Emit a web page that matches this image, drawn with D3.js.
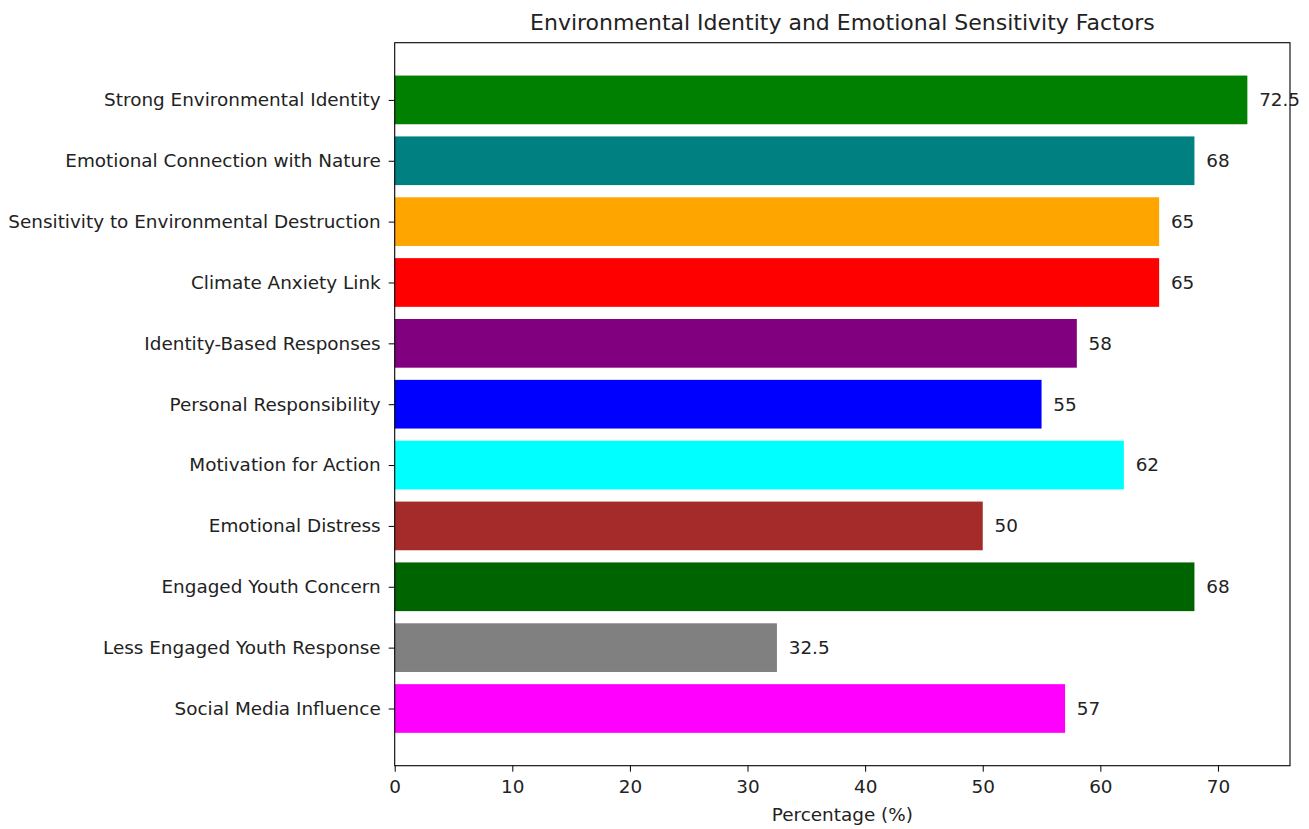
<!DOCTYPE html>
<html>
<head>
<meta charset="utf-8">
<script src="https://cdn.jsdelivr.net/npm/d3@7"></script>
<style>
  html, body { margin: 0; padding: 0; background: #fff; }
  text { font-family: "DejaVu Sans", sans-serif; fill: #222; }
</style>
</head>
<body>
<svg id="chart" width="1309" height="829"></svg>
<script>
// Factors, top to bottom, with their percentages and bar colours
const categories = [
  "Strong Environmental Identity",
  "Emotional Connection with Nature",
  "Sensitivity to Environmental Destruction",
  "Climate Anxiety Link",
  "Identity-Based Responses",
  "Personal Responsibility",
  "Motivation for Action",
  "Emotional Distress",
  "Engaged Youth Concern",
  "Less Engaged Youth Response",
  "Social Media Influence"
];
const values = [72.5, 68, 65, 65, 58, 55, 62, 50, 68, 32.5, 57];
const colors = ["#008000", "#008080", "#FFA500", "#FF0000", "#800080", "#0000FF",
                "#00FFFF", "#A52A2A", "#006400", "#808080", "#FF00FF"];
const xTicks = [0, 10, 20, 30, 40, 50, 60, 70];

const title = "Environmental Identity and Emotional Sensitivity Factors";
const xLabel = "Percentage (%)";

const svg = d3.select("#chart");
const plotL = 394.7, plotR = 1290, plotT = 42.7, plotB = 765.7;
const fs = "18.4px";

const x = d3.scaleLinear().domain([0, d3.max(values) * 1.05]).range([plotL, plotR]);
// index axis with the usual 5% padding around bars of height 0.8
const n = categories.length;
const y = d3.scaleLinear().domain([-0.94, n - 1 + 0.94]).range([plotT, plotB]);
const barH = 0.8;

svg.append("g")
  .selectAll("rect")
  .data(values)
  .join("rect")
  .attr("x", x(0))
  .attr("y", (d, i) => y(i - barH / 2))
  .attr("width", d => x(d) - x(0))
  .attr("height", y(barH) - y(0))
  .attr("fill", (d, i) => colors[i]);

// value labels just past each bar end
svg.append("g")
  .selectAll("text")
  .data(values)
  .join("text")
  .attr("x", d => x(d + 1))
  .attr("y", (d, i) => y(i))
  .attr("dy", "0.35em")
  .style("font-size", fs)
  .text(d => d);

// frame
svg.append("rect")
  .attr("x", plotL).attr("y", plotT)
  .attr("width", plotR - plotL).attr("height", plotB - plotT)
  .attr("fill", "none").attr("stroke", "#000").attr("stroke-width", 1.1);

// x axis
const xAxis = d3.axisBottom(x).tickValues(xTicks).tickSize(6).tickPadding(8).tickFormat(d3.format("d"));
const gx = svg.append("g").attr("transform", `translate(0,${plotB})`).call(xAxis);
gx.select(".domain").remove();
gx.selectAll("line").attr("stroke", "#000");
gx.selectAll("text").style("font-size", fs).style("font-family", "DejaVu Sans").attr("fill", "#222");

// y axis
const yAxis = d3.axisLeft(y).tickValues(d3.range(n)).tickSize(6).tickPadding(8).tickFormat(i => categories[i]);
const gy = svg.append("g").attr("transform", `translate(${plotL},0)`).call(yAxis);
gy.select(".domain").remove();
gy.selectAll("line").attr("stroke", "#000");
gy.selectAll("text").style("font-size", fs).style("font-family", "DejaVu Sans").attr("fill", "#222");

// title and axis label
svg.append("text")
  .attr("x", (plotL + plotR) / 2).attr("y", 30)
  .attr("text-anchor", "middle")
  .style("font-size", "22px")
  .text(title);

svg.append("text")
  .attr("x", (plotL + plotR) / 2).attr("y", 821)
  .attr("text-anchor", "middle")
  .style("font-size", fs)
  .text(xLabel);
</script>
</body>
</html>
